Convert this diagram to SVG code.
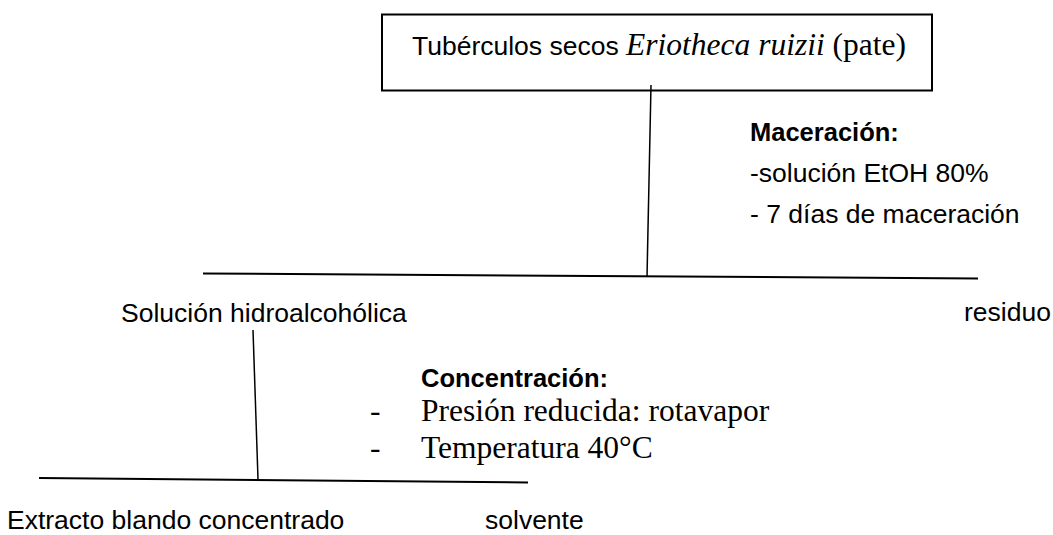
<svg xmlns="http://www.w3.org/2000/svg" width="1053" height="535" viewBox="0 0 1053 535">
<style>
.s{font-family:"Liberation Sans",Arial,sans-serif;font-size:26.5px;fill:#000}
.b{font-weight:bold;font-size:25.5px}
.r{font-family:"Liberation Serif","Times New Roman",serif;font-size:31.5px;fill:#000}
.ln{stroke:#000;stroke-width:2;fill:none}
.thin{stroke:#000;stroke-width:1.5;fill:none}
</style>
<rect width="1053" height="535" fill="#fff"/>
<g id="connectors">
<line class="thin" x1="651" y1="85" x2="647" y2="277"/>
<line class="ln" x1="203" y1="273.5" x2="978" y2="278.5"/>
<line class="thin" x1="253" y1="330" x2="258" y2="479"/>
<line class="ln" x1="39" y1="478" x2="528" y2="482.5"/>
</g>
<g id="node-tuberculos">
<rect x="382" y="14.5" width="550" height="76" fill="none" stroke="#000" stroke-width="2"/>
<text x="412" y="55"><tspan class="s" font-size="25.5">Tubérculos secos </tspan><tspan class="r" font-style="italic" font-size="32">Eriotheca ruizii</tspan><tspan class="r"> (pate)</tspan></text>
</g>
<g id="label-maceracion">
<text class="s b" x="750" y="141">Maceración:</text>
<text class="s" x="750" y="182" font-size="25.5">-solución EtOH 80%</text>
<text class="s" x="750" y="223" font-size="25.8">- 7 días de maceración</text>
</g>
<g id="node-residuo">
<text class="s" x="964" y="321">residuo</text>
</g>
<g id="node-solucion">
<text class="s" x="121" y="322" font-size="27">Solución hidroalcohólica</text>
</g>
<g id="label-concentracion">
<text class="s b" x="421" y="387" font-size="25">Concentración:</text>
<text class="r" x="370" y="421">-</text>
<text class="r" x="421" y="421" font-size="31.8">Presión reducida: rotavapor</text>
<text class="r" x="370" y="458">-</text>
<text class="r" x="421" y="458">Temperatura 40°C</text>
</g>
<g id="node-extracto">
<text class="s" x="7" y="529" font-size="27">Extracto blando concentrado</text>
</g>
<g id="node-solvente">
<text class="s" x="485" y="529">solvente</text>
</g>
</svg>
